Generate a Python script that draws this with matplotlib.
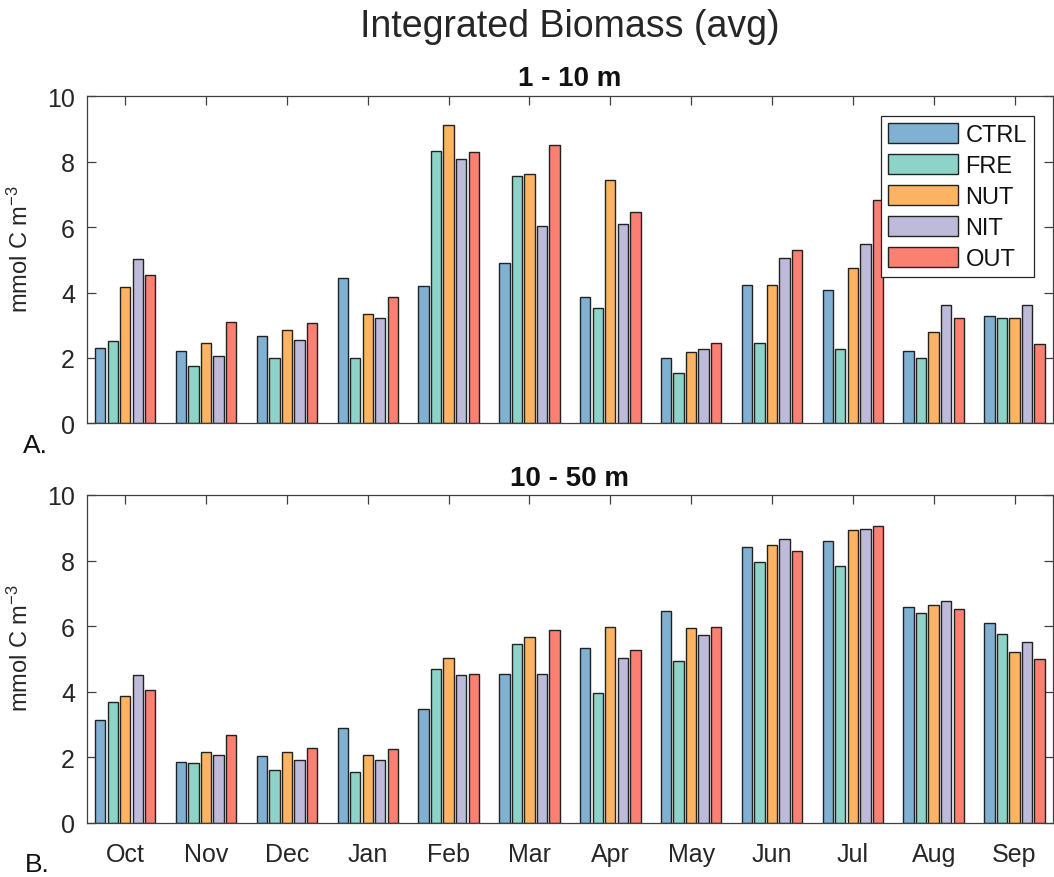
import matplotlib
matplotlib.use("Agg")
import matplotlib.pyplot as plt
import numpy as np

plt.rcParams['font.family'] = ['Liberation Sans', 'DejaVu Sans']
plt.rcParams['mathtext.default'] = 'regular'

months = ['Oct', 'Nov', 'Dec', 'Jan', 'Feb', 'Mar', 'Apr', 'May', 'Jun', 'Jul', 'Aug', 'Sep']
series = ['CTRL', 'FRE', 'NUT', 'NIT', 'OUT']
colors = ['#80b1d3', '#8dd3c7', '#fdb462', '#bebada', '#fb8072']

top_ctrl = [2.30, 2.20, 2.68, 4.44, 4.20, 4.90, 3.86, 2.00, 4.23, 4.09, 2.20, 3.27]
top_fre = [2.51, 1.76, 2.00, 2.00, 8.33, 7.56, 3.52, 1.55, 2.47, 2.27, 2.00, 3.21]
top_nut = [4.16, 2.45, 2.85, 3.34, 9.13, 7.63, 7.45, 2.17, 4.23, 4.76, 2.80, 3.21]
top_nit = [5.03, 2.07, 2.54, 3.21, 8.09, 6.04, 6.10, 2.27, 5.06, 5.49, 3.62, 3.62]
top_out = [4.54, 3.10, 3.07, 3.86, 8.30, 8.50, 6.47, 2.45, 5.30, 6.82, 3.21, 2.44]

bot_ctrl = [3.13, 1.87, 2.05, 2.91, 3.47, 4.55, 5.34, 6.46, 8.41, 8.61, 6.60, 6.11]
bot_fre = [3.69, 1.84, 1.62, 1.56, 4.69, 5.46, 3.96, 4.93, 7.96, 7.85, 6.39, 5.77]
bot_nut = [3.86, 2.15, 2.15, 2.08, 5.04, 5.66, 5.98, 5.94, 8.48, 8.93, 6.64, 5.21]
bot_nit = [4.52, 2.08, 1.91, 1.91, 4.51, 4.55, 5.04, 5.74, 8.65, 8.97, 6.77, 5.52]
bot_out = [4.06, 2.67, 2.29, 2.25, 4.55, 5.87, 5.28, 5.98, 8.30, 9.07, 6.53, 5.00]

top_data = [top_ctrl, top_fre, top_nut, top_nit, top_out]
bot_data = [bot_ctrl, bot_fre, bot_nut, bot_nit, bot_out]

W, H = 1054, 878
fig = plt.figure(figsize=(W / 100, H / 100), dpi=100)

axc = '#404040'
txtc = '#262626'

def px_axes(left, top, right, bottom):
    return [left / W, 1 - bottom / H, (right - left) / W, (bottom - top) / H]

ax1 = fig.add_axes(px_axes(86.7, 97.3, 1052.5, 424.3))
ax2 = fig.add_axes(px_axes(86.7, 496.0, 1052.5, 824.0))

x = np.arange(1, len(months) + 1)
pitch = 0.155
bw = 0.128

for ax, data in [(ax1, top_data), (ax2, bot_data)]:
    for i, (name, vals, c) in enumerate(zip(series, data, colors)):
        ax.bar(x + (i - 2) * pitch, vals, width=bw, color=c,
               edgecolor='#222222', linewidth=1.0, label=name, zorder=2)
    ax.set_xlim(0.523, 12.47)
    ax.set_ylim(0, 10)
    ax.set_yticks([0, 2, 4, 6, 8, 10])
    ax.set_xticks(x)
    ax.tick_params(axis='both', direction='in', length=6.5, width=0.9,
                   color=axc, labelcolor=txtc, labelsize=18,
                   top=True, right=True)
    ax.tick_params(axis='y', pad=8.5)
    ax.tick_params(axis='x', pad=14)
    for s in ax.spines.values():
        s.set_color(axc)
        s.set_linewidth(0.9)
    ax.set_ylabel('mmol C m$^{-3}$', fontsize=17, color=txtc)
    ax.yaxis.set_label_coords(-0.056, 0.535)

ax1.set_xticklabels([])
ax2.set_xticklabels(months)

leg = ax1.legend(loc='upper right', bbox_to_anchor=(0.981, 0.9398), borderaxespad=0,
                 fontsize=17, handlelength=2.97, handleheight=0.93, handletextpad=0.3,
                 labelspacing=0.33, borderpad=0.3, fancybox=False, framealpha=1,
                 edgecolor='#262626')
leg.get_frame().set_linewidth(0.9)
for t in leg.get_texts():
    t.set_color('#111111')

fig.text(569.5 / W, 1 - 36.7 / H, 'Integrated Biomass (avg)', ha='center', va='baseline',
         fontsize=27, color=txtc)
fig.text(569.5 / W, 1 - 86.0 / H, '1 - 10 m', ha='center', va='baseline',
         fontsize=20, fontweight='bold', color='#111111')
fig.text(569.5 / W, 1 - 485.7 / H, '10 - 50 m', ha='center', va='baseline',
         fontsize=20, fontweight='bold', color='#111111')
fig.text(23 / W, 1 - 453 / H, 'A.', ha='left', va='baseline', fontsize=19, color='#111111')
fig.text(25 / W, 1 - 872 / H, 'B.', ha='left', va='baseline', fontsize=19, color='#111111')

fig.savefig('out.png', dpi=100)
